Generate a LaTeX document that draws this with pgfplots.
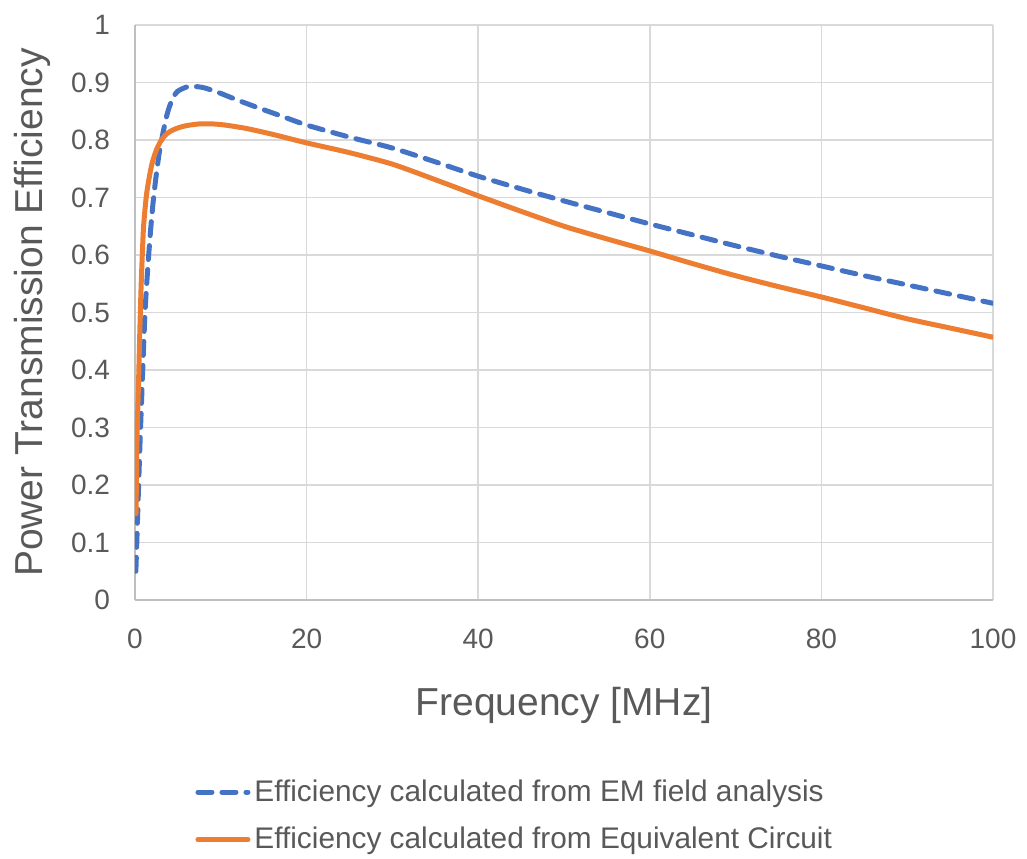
\documentclass[border=0pt]{standalone}
\usepackage{pgfplots}
\pgfplotsset{compat=1.18}
\usepackage{fontspec}
\setmainfont{Liberation Sans}
\definecolor{txt}{RGB}{89,89,89}
\definecolor{gridc}{RGB}{217,217,217}
\definecolor{axc}{RGB}{191,191,191}
\definecolor{blueS}{RGB}{68,114,196}
\definecolor{orangeS}{RGB}{237,125,49}
\begin{document}
\begin{tikzpicture}
\useasboundingbox (-67.5pt,-129pt) rectangle (446pt,300pt);
\begin{axis}[
  at={(0pt,0pt)}, anchor=south west,
  scale only axis, width=429pt, height=287.5pt,
  xmin=0, xmax=100, ymin=0, ymax=1,
  xtick={0,20,...,100},
  ytick={0,0.1,...,1.0},
  grid=major, major grid style={gridc, line width=0.8pt},
  axis lines=left, axis line style={axc, line width=0.8pt, -},
  major tick length=0pt, minor tick length=0pt,
  tick label style={font=\fontsize{14}{16}\selectfont, text=txt},
  /pgf/number format/assume math mode=true,
  yticklabel style={/pgf/number format/fixed, /pgf/number format/precision=1},
  xticklabel style={yshift=-11pt},
  yticklabel style={xshift=-9pt},
  xlabel={Frequency [MHz]}, ylabel={Power Transmission Efficiency},
  label style={font=\fontsize{19.5}{23}\selectfont, text=txt},
  xlabel style={at={(axis description cs:0.5,0)}, anchor=center, yshift=-52.5pt},
  ylabel style={at={(axis description cs:-0.12,0.5)}, anchor=center},
  legend style={at={(axis description cs:0.07,-0.305)}, anchor=north west, draw=none, fill=none,
    font=\fontsize{14.9}{17}\selectfont, text=txt, row sep=7.5pt, inner sep=0pt,
    legend cell align=left},
  legend image code/.code={\draw[#1] (0pt,0pt) -- (25pt,0pt);},
]
\addplot[blueS, line width=2.5pt, dash pattern=on 7pt off 5pt, line cap=round, smooth, tension=0.4] coordinates {
(0.1,0.05) (0.25,0.12) (0.4,0.19) (0.6,0.28) (0.8,0.36) (1.0,0.44) (1.2,0.51) (1.5,0.58) (1.8,0.64) (2.1,0.69) (2.4,0.73) (2.8,0.775) (3.3,0.815) (3.8,0.848) (4.4,0.873) (5.0,0.885) (6.0,0.892) (7.0,0.893) (8.0,0.891) (9.5,0.884) (11.5,0.872) (14,0.858) (17,0.842) (20,0.826) (25,0.805) (30,0.786) (35,0.762) (40,0.737) (45,0.715) (50,0.694) (55,0.674) (60,0.654) (65,0.635) (70,0.616) (75,0.598) (80,0.581) (85,0.564) (90,0.548) (95,0.532) (100,0.516)
};
\addlegendentry{Efficiency calculated from EM field analysis}
\addplot[orangeS, line width=2.5pt, line cap=round, smooth, tension=0.4] coordinates {
(0.12,0.15) (0.2,0.25) (0.3,0.32) (0.4,0.37) (0.55,0.46) (0.7,0.54) (0.85,0.6) (1.0,0.65) (1.3,0.70) (1.6,0.73) (2.0,0.76) (2.5,0.783) (3.0,0.798) (3.5,0.808) (4.1,0.815) (5,0.821) (6,0.825) (7.5,0.828) (9,0.828) (10.5,0.826) (13,0.82) (16,0.81) (20,0.795) (25,0.778) (30,0.758) (35,0.731) (40,0.703) (45,0.676) (50,0.650) (55,0.628) (60,0.607) (65,0.585) (70,0.564) (75,0.545) (80,0.527) (85,0.508) (90,0.489) (95,0.473) (100,0.457)
};
\addlegendentry{Efficiency calculated from Equivalent Circuit}
\end{axis}
\end{tikzpicture}
\end{document}
